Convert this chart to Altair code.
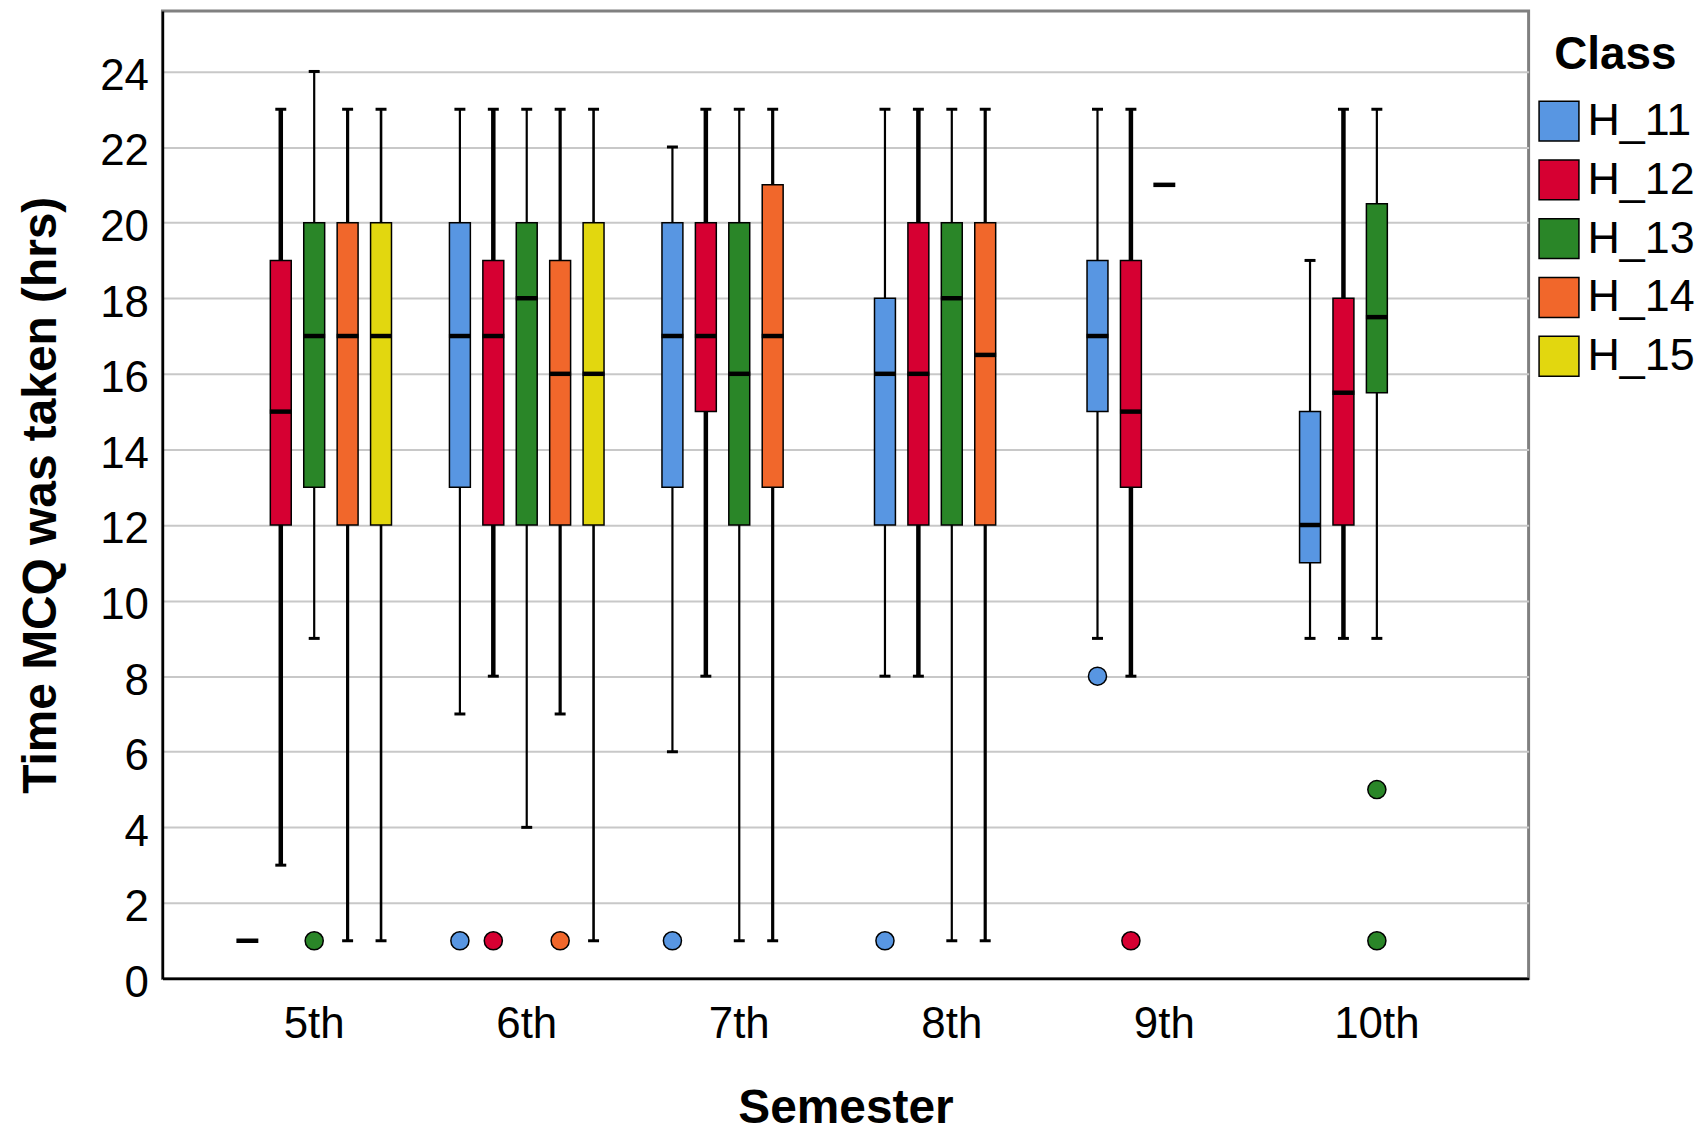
import altair as alt
import pandas as pd

semesters = ["5th", "6th", "7th", "8th", "9th", "10th"]
classes = ["H_11", "H_12", "H_13", "H_14", "H_15"]
class_colors = ["#5896E2", "#D60032", "#2A8628", "#F1672B", "#E2D70F"]
whisker_widths = [2.2, 4.5, 2.2, 3.2, 2.6]

box_semester = ["5th", "5th", "5th", "5th", "5th",
                "6th", "6th", "6th", "6th", "6th",
                "7th", "7th", "7th", "7th",
                "8th", "8th", "8th", "8th",
                "9th", "9th", "9th",
                "10th", "10th", "10th"]
box_class = ["H_11", "H_12", "H_13", "H_14", "H_15",
             "H_11", "H_12", "H_13", "H_14", "H_15",
             "H_11", "H_12", "H_13", "H_14",
             "H_11", "H_12", "H_13", "H_14",
             "H_11", "H_12", "H_13",
             "H_11", "H_12", "H_13"]
whisker_low = [None, 3, 9, 1, 1,
               7, 8, 4, 7, 1,
               6, 8, 1, 1,
               8, 8, 1, 1,
               9, 8, None,
               9, 9, 9]
q1 = [None, 12, 13, 12, 12,
      13, 12, 12, 12, 12,
      13, 15, 12, 13,
      12, 12, 12, 12,
      15, 13, None,
      11, 12, 15.5]
median = [1, 15, 17, 17, 17,
          17, 17, 18, 16, 16,
          17, 17, 16, 17,
          16, 16, 18, 16.5,
          17, 15, 21,
          12, 15.5, 17.5]
q3 = [None, 19, 20, 20, 20,
      20, 19, 20, 19, 20,
      20, 20, 20, 21,
      18, 20, 20, 20,
      19, 19, None,
      15, 18, 20.5]
whisker_high = [None, 23, 24, 23, 23,
                23, 23, 23, 23, 23,
                22, 23, 23, 23,
                23, 23, 23, 23,
                23, 23, None,
                19, 23, 23]

outlier_semester = ["5th", "6th", "6th", "6th", "7th", "8th", "9th", "9th", "10th", "10th"]
outlier_class = ["H_13", "H_11", "H_12", "H_14", "H_11", "H_11", "H_11", "H_12", "H_13", "H_13"]
outlier_value = [1, 1, 1, 1, 1, 1, 8, 1, 5, 1]

y_ticks = [0, 2, 4, 6, 8, 10, 12, 14, 16, 18, 20, 22, 24]

boxes = pd.DataFrame({
    "Semester": box_semester, "Class": box_class,
    "lo": whisker_low, "q1": q1, "median": median, "q3": q3, "hi": whisker_high,
})
outliers = pd.DataFrame({
    "Semester": outlier_semester, "Class": outlier_class, "value": outlier_value,
})

FONT = "Liberation Sans"
Y_TITLE = "Time MCQ was taken (hrs)"

x_enc = alt.X(
    "Semester:N", sort=semesters,
    scale=alt.Scale(domain=semesters, paddingOuter=0.214, paddingInner=0),
    axis=alt.Axis(title="Semester", labelAngle=0, ticks=False, tickSize=0,
                  labelFontSize=44, labelPadding=24, labelColor="black",
                  titleFontSize=48, titleFontWeight="bold", titlePadding=38,
                  titleColor="black", domainColor="black", domainWidth=2.5,
                  labelFont=FONT, titleFont=FONT),
)
xoff_enc = alt.XOffset(
    "Class:N", sort=classes,
    scale=alt.Scale(domain=classes, paddingOuter=0.68, paddingInner=0),
)
y_scale = alt.Scale(domain=[0, 25.6], nice=False, zero=False)
y_axis = alt.Axis(values=y_ticks, ticks=False, tickSize=0, labelFontSize=44,
                  labelPadding=14, labelOffset=5, labelColor="black",
                  titleFontSize=48, titleFontWeight="bold", titlePadding=34,
                  titleColor="black", domainColor="black", domainWidth=2.5,
                  gridColor="#c8c8c8", gridWidth=2, labelFont=FONT,
                  titleFont=FONT)

color_scale = alt.Scale(domain=classes, range=class_colors)
legend = alt.Legend(title="Class", orient="right", offset=-14, padding=22,
                    symbolType="square", symbolSize=1600,
                    symbolStrokeColor="black", symbolStrokeWidth=1.5,
                    symbolOpacity=1,
                    labelFontSize=45, titleFontSize=46,
                    titleFontWeight="bold", rowPadding=12, labelOffset=6,
                    titlePadding=20, titleAnchor="middle",
                    labelColor="black", titleColor="black",
                    labelFont=FONT, titleFont=FONT)


def y_enc(field):
    return alt.Y(f"{field}:Q", scale=y_scale, axis=y_axis, title=Y_TITLE)


base = alt.Chart(boxes)

width_expr = "{}[indexof({}, datum.Class)]".format(
    "[" + ",".join(str(w) for w in whisker_widths) + "]",
    "[" + ",".join(f"'{c}'" for c in classes) + "]",
)

whiskers = base.transform_calculate(sw=width_expr).mark_rule(color="black", opacity=1).encode(
    x=x_enc, xOffset=xoff_enc, y=y_enc("lo"), y2="hi:Q",
    strokeWidth=alt.StrokeWidth("sw:Q", scale=None),
)
cap_low = base.mark_tick(color="black", size=11, thickness=3, opacity=1).encode(
    x=x_enc, xOffset=xoff_enc, y=y_enc("lo"),
)
cap_high = base.mark_tick(color="black", size=11, thickness=3, opacity=1).encode(
    x=x_enc, xOffset=xoff_enc, y=y_enc("hi"),
)
box = base.mark_bar(stroke="black", strokeWidth=1.5, width=21, opacity=1).encode(
    x=x_enc, xOffset=xoff_enc, y=y_enc("q1"), y2="q3:Q",
    color=alt.Color("Class:N", sort=classes, scale=color_scale, legend=legend),
)
med = base.mark_tick(color="black", size=22, thickness=4.5, opacity=1).encode(
    x=x_enc, xOffset=xoff_enc, y=y_enc("median"),
)
pts = alt.Chart(outliers).mark_circle(size=330, stroke="black", strokeWidth=1.5, opacity=1).encode(
    x=x_enc, xOffset=xoff_enc, y=y_enc("value"),
    color=alt.Color("Class:N", sort=classes, scale=color_scale, legend=legend),
)

chart = alt.layer(whiskers, cap_low, cap_high, box, med, pts).properties(
    width=1371, height=971,
    padding={"left": 155, "top": 1, "right": 172, "bottom": 152},
    autosize=alt.AutoSizeParams(type="none"),
).configure(
    font=FONT, background="white"
).configure_view(
    stroke="#808080", strokeWidth=3,
)

chart.save("out.html", embed_options={"renderer": "svg", "actions": False})
